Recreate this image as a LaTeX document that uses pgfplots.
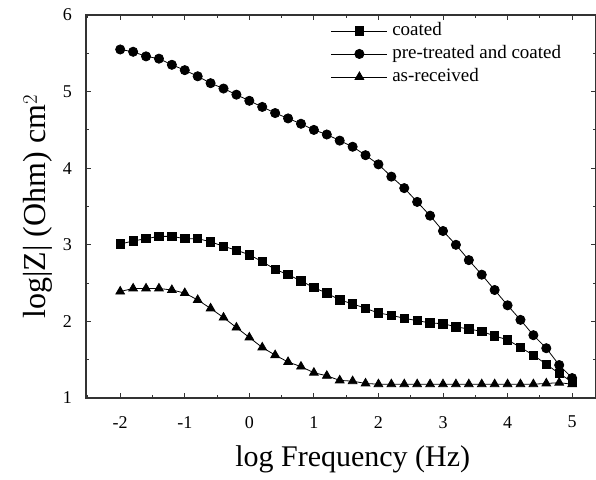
\documentclass[border=0pt]{standalone}
\usepackage{fontspec}
\setmainfont{Liberation Serif}
\usepackage{pgfplots}
\pgfplotsset{compat=1.18}
\newcommand{\tfont}{\fontsize{18}{20}\selectfont}
\begin{document}
\begin{tikzpicture}
\begin{axis}[
  scale only axis, width=510pt, height=383pt,
  xmin=-2.53, xmax=5.37, ymin=1, ymax=6,
  xtick={-2,-1,0,1,2,3,4,5}, ytick={1,2,3,4,5,6},
  xticklabels={{\tfont -2},{\tfont -1},{\tfont 0},{\tfont 1},{\tfont 2},{\tfont 3},{\tfont 4},{\tfont 5}},
  yticklabels={{\tfont 1},{\tfont 2},{\tfont 3},{\tfont 4},{\tfont 5},{\tfont 6}},
  minor xtick={-2.5,-1.5,-0.5,0.5,1.5,2.5,3.5,4.5},
  minor ytick={1.5,2.5,3.5,4.5,5.5},
  tick align=inside, major tick length=5pt, minor tick length=3pt,
  axis line style={line width=1.3pt, black!80},
  every tick/.style={line width=1pt, black!80},
  xticklabel style={font=\tfont, inner sep=0pt, yshift=-18pt},
  yticklabel style={font=\tfont, inner sep=0pt, xshift=-14pt},
  xlabel={log Frequency (Hz)},
  ylabel={log|Z| (Ohm) cm$^2$},
  xlabel style={font=\fontsize{30}{32}\selectfont, inner sep=0pt, at={(axis description cs:0.523,-0.1227)}, anchor=north},
  ylabel style={font=\fontsize{32}{34}\selectfont, inner sep=0pt, at={(axis description cs:-0.0647,0.5)}, anchor=south},
  legend cell align=left,
  legend style={draw=none, fill=none, inner sep=0pt, at={(axis description cs:0.48,0.985)}, anchor=north west,
    font=\fontsize{19}{22}\selectfont, nodes={inner sep=1.5pt, text height=13pt, text depth=4pt}, row sep=3pt, column sep=3pt},
  legend image code/.code={\draw[mark repeat=2,mark phase=2] plot coordinates {(0pt,0pt)(28pt,0pt)(56pt,0pt)};},
]
\addplot[black, line width=0.8pt, mark=square*, mark size=4.2pt] coordinates {
(-2.0,3.01)(-1.8,3.05)(-1.6,3.08)(-1.4,3.11)(-1.2,3.11)(-1.0,3.08)(-0.8,3.08)(-0.6,3.04)(-0.4,2.98)(-0.2,2.93)
(0.0,2.87)(0.2,2.78)(0.4,2.68)(0.6,2.61)(0.8,2.53)(1.0,2.44)(1.2,2.37)(1.4,2.28)(1.6,2.23)(1.8,2.17)
(2.0,2.11)(2.2,2.08)(2.4,2.04)(2.6,2.01)(2.8,1.98)(3.0,1.97)(3.2,1.93)(3.4,1.90)(3.6,1.87)(3.8,1.81)
(4.0,1.76)(4.2,1.66)(4.4,1.56)(4.6,1.44)(4.8,1.32)(5.0,1.21)};
\addlegendentry{coated}
\addplot[black, line width=0.8pt, mark=*, mark size=4.6pt] coordinates {
(-2.0,5.55)(-1.8,5.52)(-1.6,5.46)(-1.4,5.43)(-1.2,5.35)(-1.0,5.28)(-0.8,5.20)(-0.6,5.11)(-0.4,5.04)(-0.2,4.96)
(0.0,4.88)(0.2,4.80)(0.4,4.72)(0.6,4.65)(0.8,4.58)(1.0,4.50)(1.2,4.44)(1.4,4.36)(1.6,4.28)(1.8,4.17)
(2.0,4.05)(2.2,3.89)(2.4,3.74)(2.6,3.56)(2.8,3.38)(3.0,3.18)(3.2,3.00)(3.4,2.80)(3.6,2.61)(3.8,2.41)
(4.0,2.21)(4.2,2.02)(4.4,1.82)(4.6,1.65)(4.8,1.43)(5.0,1.26)};
\addlegendentry{pre-treated and coated}
\addplot[black, line width=0.8pt, mark=triangle*, mark size=5pt] coordinates {
(-2.0,2.39)(-1.8,2.43)(-1.6,2.43)(-1.4,2.43)(-1.2,2.41)(-1.0,2.37)(-0.8,2.28)(-0.6,2.17)(-0.4,2.05)(-0.2,1.92)
(0.0,1.79)(0.2,1.66)(0.4,1.56)(0.6,1.47)(0.8,1.41)(1.0,1.33)(1.2,1.29)(1.4,1.23)(1.6,1.22)(1.8,1.19)
(2.0,1.18)(2.2,1.18)(2.4,1.18)(2.6,1.18)(2.8,1.18)(3.0,1.18)(3.2,1.18)(3.4,1.18)(3.6,1.18)(3.8,1.18)
(4.0,1.18)(4.2,1.18)(4.4,1.18)(4.6,1.19)(4.8,1.20)(5.0,1.18)};
\addlegendentry{as-received}
\end{axis}
\pgfresetboundingbox
\path ([shift={(-86pt,-81pt)}]current axis.south west) rectangle ([shift={(0pt,15pt)}]current axis.north east);
\end{tikzpicture}
\end{document}
